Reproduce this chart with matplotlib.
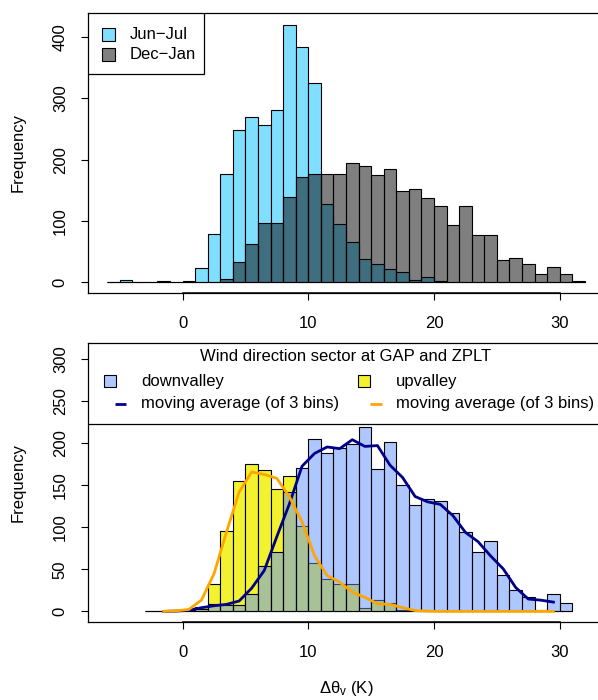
import numpy as np
import matplotlib.pyplot as plt
from matplotlib.patches import Rectangle
from matplotlib.lines import Line2D

plt.rcParams['font.family'] = ['Liberation Sans', 'DejaVu Sans']
plt.rcParams['font.size'] = 12
plt.rcParams['mathtext.fontset'] = 'custom'
plt.rcParams['mathtext.rm'] = 'Liberation Sans'
plt.rcParams['mathtext.it'] = 'Liberation Sans:italic'

# top panel: 1 K bins from -6 to 32
top_breaks = np.arange(-6, 33)
jun_jul = [1, 4, 1, 0, 1, 0, 2, 24, 78, 177, 248, 269, 257, 281, 420, 383, 325,
           128, 95, 65, 38, 30, 22, 16, 4, 8, 2, 1, 0, 0, 0, 0, 0, 0, 0, 0, 0, 0]
dec_jan = [1, 1, 1, 1, 2, 0, 0, 0, 0, 5, 33, 63, 97, 97, 139, 171, 176, 176,
           177, 194, 189, 175, 185, 148, 152, 138, 124, 94, 124, 77, 77, 37, 40,
           29, 14, 25, 13, 2]

# bottom panel: 1 K bins from -3 to 31
bot_breaks = np.arange(-3, 32)
downvalley = [0, 0, 0, 1, 3, 9, 8, 8, 21, 54, 71, 142, 171, 205, 188, 194, 199,
              220, 170, 202, 150, 126, 134, 131, 117, 94, 71, 84, 43, 25, 17, 2,
              21, 10]
upvalley = [0, 0, 0, 2, 5, 33, 96, 155, 175, 168, 146, 161, 102, 57, 39, 32, 33,
            4, 13, 10, 2, 1, 0, 0, 0, 0, 0, 0, 0, 0, 0, 0, 0, 0]

x_ticks = [0, 10, 20, 30]
xlim = (-7.52, 33.52)


def moving_avg(counts):
    return np.convolve(np.asarray(counts, float), np.ones(3) / 3, mode='valid')


def style_axes(ax, yticks):
    ax.set_xlim(*xlim)
    ax.set_xticks(x_ticks)
    ax.set_yticks(yticks)
    for s in ax.spines.values():
        s.set_linewidth(0.9)
    ax.tick_params(direction='out', length=5, width=0.8)
    ax.tick_params(axis='x', pad=12)
    ax.tick_params(axis='y', pad=9.5, labelrotation=90)
    for lbl in ax.get_yticklabels():
        lbl.set_va('center')
    # R style axis line between first and last tick
    ax.plot([x_ticks[0], x_ticks[-1]], [0, 0], color='black', lw=1.1,
            transform=ax.get_xaxis_transform(), clip_on=False)


fig = plt.figure(figsize=(5.98, 7.0), dpi=100)
W, H = 598, 700


def px_axes(left, top, right, bottom):
    return fig.add_axes([left / W, 1 - bottom / H, (right - left) / W, (bottom - top) / H])


# ---- top panel ----
ax1 = px_axes(88, 13, 604, 292.7)
ax1.bar(top_breaks[:-1], jun_jul, width=1, align='edge', color='#80DFFF',
        edgecolor='black', linewidth=0.8)
ax1.bar(top_breaks[:-1], dec_jan, width=1, align='edge', color=(0, 0, 0, 0.5),
        edgecolor='black', linewidth=0.8)
ax1.set_ylim(-17, 439)
style_axes(ax1, range(0, 401, 100))

# legend (topleft)
ax1.add_patch(Rectangle((0, 0.782), 0.2248, 0.218, transform=ax1.transAxes,
                        facecolor='white', edgecolor='black', lw=0.9, zorder=5))
for yc, col, lab in [(0.9224, '#80DFFF', 'Jun\u2212Jul'), (0.8509, '#808080', 'Dec\u2212Jan')]:
    ax1.add_patch(Rectangle((0.0401 - 0.0123, yc - 0.0227), 0.0246, 0.0454,
                            transform=ax1.transAxes, facecolor=col,
                            edgecolor='black', lw=0.8, zorder=6))
    ax1.text(0.081, yc, lab, transform=ax1.transAxes, ha='left', va='center', zorder=6)

# ---- bottom panel ----
ax2 = px_axes(88, 342.5, 604, 621.7)
ax2.bar(bot_breaks[:-1], upvalley, width=1, align='edge', color='#F2F230',
        edgecolor='black', linewidth=0.8)
ax2.bar(bot_breaks[:-1], downvalley, width=1, align='edge',
        color=(0.38, 0.57, 1.0, 0.5), edgecolor='black', linewidth=0.8)
mids = (bot_breaks[:-1] + bot_breaks[1:]) / 2
ax2.plot(mids[1:-1], moving_avg(downvalley), color='#00008B', lw=2)
ax2.plot(mids[1:-1], moving_avg(upvalley), color='#FFA500', lw=2)
ax2.set_ylim(-12.3, 320)
style_axes(ax2, range(0, 301, 50))

# legend (top, two columns)
ax2.add_patch(Rectangle((0, 0.708), 1.0, 0.292, transform=ax2.transAxes,
                        facecolor='white', edgecolor='black', lw=0.9, zorder=5))
ax2.text(0.5, 0.951, 'Wind direction sector at GAP and ZPLT', transform=ax2.transAxes,
         ha='center', va='center', zorder=6)
for x_box, x_line, x_txt, fc, lc, lab in [
        (0.0426, 0.0630, 0.1027, (0.69, 0.785, 1.0), '#00008B', 'downvalley'),
        (0.5349, 0.5581, 0.5965, '#F2F230', '#FFA500', 'upvalley')]:
    ax2.add_patch(Rectangle((x_box - 0.0123, 0.862 - 0.0227), 0.0246, 0.0454,
                            transform=ax2.transAxes, facecolor=fc,
                            edgecolor='black', lw=0.8, zorder=6))
    ax2.text(x_txt, 0.862, lab, transform=ax2.transAxes, ha='left', va='center', zorder=6)
    ax2.add_line(Line2D([x_line - 0.011, x_line + 0.011], [0.780, 0.780], color=lc, lw=2,
                        solid_capstyle='butt', transform=ax2.transAxes, zorder=6))
    ax2.text(x_txt, 0.780, 'moving average (of 3 bins)', transform=ax2.transAxes,
             ha='left', va='center', zorder=6)

fig.text(18 / W, 1 - 152.9 / H, 'Frequency', rotation=90, ha='center', va='center')
fig.text(18 / W, 1 - 482 / H, 'Frequency', rotation=90, ha='center', va='center')
fig.text(346 / W, 1 - 689 / H, r'$\mathrm{\Delta\theta}_\mathrm{v}$ (K)', ha='center', va='center')

fig.savefig('out.png', dpi=100)
